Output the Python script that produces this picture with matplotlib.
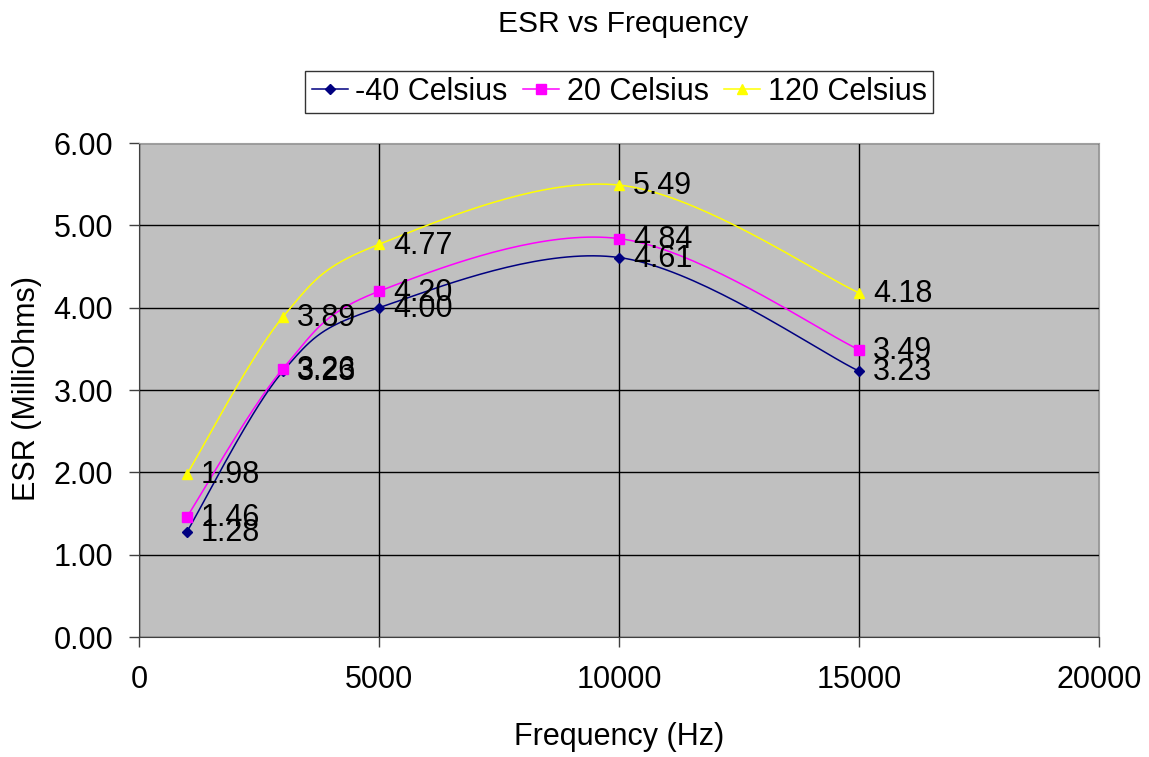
import numpy as np
import matplotlib
matplotlib.use("Agg")
import matplotlib.pyplot as plt

plt.rcParams['font.family'] = ['Liberation Sans', 'DejaVu Sans']

freq = [1000, 3000, 5000, 10000, 15000]
esr_m40 = [1.28, 3.23, 4.00, 4.61, 3.23]
esr_20 = [1.46, 3.26, 4.20, 4.84, 3.49]
esr_120 = [1.98, 3.89, 4.77, 5.49, 4.18]
labels = ['-40 Celsius', '20 Celsius', '120 Celsius']


def smooth(x, y, n=40):
    # excel-like smoothed line: bezier segments with catmull-rom control points
    x = np.asarray(x, float)
    y = np.asarray(y, float)
    xs, ys = [], []
    for i in range(len(x) - 1):
        i0 = max(i - 1, 0)
        i3 = min(i + 2, len(x) - 1)
        c1x = x[i] + (x[i + 1] - x[i0]) / 6
        c1y = y[i] + (y[i + 1] - y[i0]) / 6
        c2x = x[i + 1] - (x[i3] - x[i]) / 6
        c2y = y[i + 1] - (y[i3] - y[i]) / 6
        t = np.linspace(0, 1, n)
        a, b, c, d = (1 - t)**3, 3*(1 - t)**2*t, 3*(1 - t)*t**2, t**3
        xs.append(a*x[i] + b*c1x + c*c2x + d*x[i + 1])
        ys.append(a*y[i] + b*c1y + c*c2y + d*y[i + 1])
    return np.concatenate(xs), np.concatenate(ys)


fig = plt.figure(figsize=(11.49, 7.57), dpi=100)
ax = fig.add_axes([0.121, 0.1585, 0.8355, 0.6525])
ax.set_facecolor('#C0C0C0')

series = [(esr_m40, '#000080', 'D', 5.5), (esr_20, '#FF00FF', 's', 6.5), (esr_120, '#FFFF00', '^', 7.5)]
for (vals, col, mk, ms), lab in zip(series, labels):
    sx, sy = smooth(freq, vals)
    ax.plot(sx, sy, color=col, lw=1.1, zorder=3)
    ax.plot(freq, vals, ls='none', marker=mk, color=col, ms=ms, zorder=4)
    ax.plot([], [], color=col, marker=mk, ms=ms, lw=1.1, label=lab)
    for f, v in zip(freq, vals):
        ax.annotate('%.2f' % v, (f, v), xytext=(10, -1), textcoords='offset points',
                    fontsize=22, va='center', ha='left', zorder=5)

ax.set_xlim(0, 20000)
ax.set_ylim(0, 6)
ax.set_xticks([0, 5000, 10000, 15000, 20000])
ax.set_yticks(np.arange(0, 6.01, 1))
ax.set_yticklabels(['%.2f' % v for v in np.arange(0, 6.01, 1)])
ax.grid(True, color='black', lw=1)
ax.set_axisbelow(True)
ax.tick_params(labelsize=22, direction='out', length=7, width=1, color='#404040')
ax.tick_params(axis='y', pad=11.5)
ax.tick_params(axis='x', pad=13.5)
for s in ['top', 'right']:
    ax.spines[s].set_color('#A0A0A0')
for s in ['left', 'bottom']:
    ax.spines[s].set_color('#404040')

ax.set_xlabel('Frequency (Hz)', fontsize=22, va='baseline')
ax.xaxis.set_label_coords(0.5, -0.2186)
ax.set_ylabel('ESR (MilliOhms)', fontsize=22, va='center')
ax.yaxis.set_label_coords(-0.1167, 0.504)
fig.text(0.542, 0.9577, 'ESR vs Frequency', fontsize=21.6, ha='center', va='baseline')

leg = ax.legend(loc='center', bbox_to_anchor=(0.5, 1.104), ncol=3, fontsize=22, frameon=True,
                fancybox=False, edgecolor='black', handlelength=1.18, handletextpad=0.25,
                columnspacing=0.5, borderpad=0.2, borderaxespad=0)
leg.get_frame().set_linewidth(1)

fig.savefig('out.png', dpi=100)
